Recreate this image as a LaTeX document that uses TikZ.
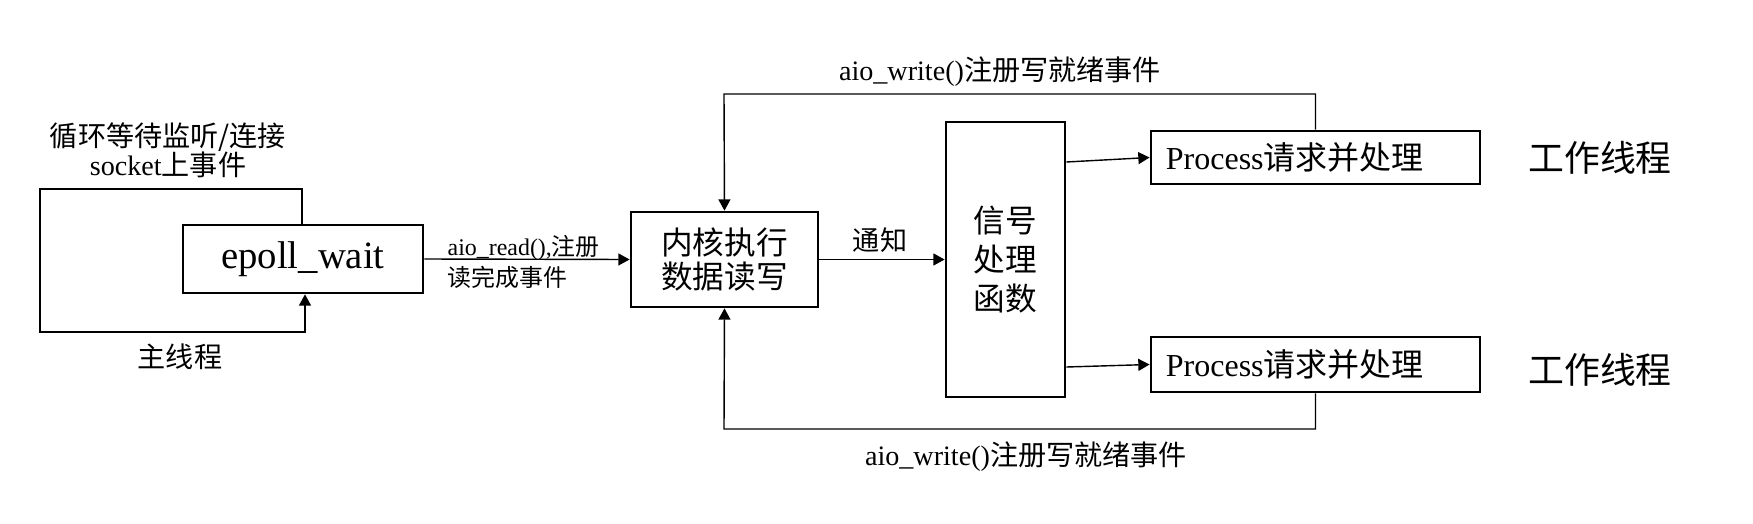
\documentclass[tikz,border=0pt]{standalone}
\usepackage{fontspec}
\setmainfont{Liberation Serif}
\newfontfamily\cjk{Noto Sans CJK SC}
\newcommand{\zh}[1]{{\cjk #1}}
\usetikzlibrary{arrows.meta}
\tikzset{
  box/.style={draw, line width=0.75pt, inner sep=0pt, align=center},
  conn/.style={line width=0.4pt},
  arr/.style={conn, -{Triangle[length=3.2pt,width=3.4pt]}},
  lbl/.style={inner sep=0pt, align=center, font=\fontsize{8}{8.3}\selectfont}
}
\begin{document}
\begin{tikzpicture}[x=0.01cm, y=-0.01cm]
\useasboundingbox (0,0) rectangle (1753,524);
% boxes
\node[box, minimum width=2.40cm, minimum height=0.68cm, font=\fontsize{11}{13}\selectfont] (epoll) at (303,259) {epoll\_wait};
\node[box, minimum width=1.87cm, minimum height=0.95cm, font=\fontsize{9}{9.4}\selectfont] (kernel) at (724.5,259.5) {\zh{内核执行}\\\zh{数据读写}};
\node[box, minimum width=1.19cm, minimum height=2.75cm, font=\fontsize{9}{11.1}\selectfont] (signal) at (1005.5,259.5) {\zh{信号}\\\zh{处理}\\\zh{函数}};
\node[box, minimum height=0.53cm, text width=2.99cm, inner xsep=0.15cm, align=left, font=\fontsize{9.1}{10}\selectfont] (p1) at (1315.5,157.5) {Process\zh{请求并处理}};
\node[box, minimum height=0.55cm, text width=2.99cm, inner xsep=0.15cm, align=left, font=\fontsize{9.1}{10}\selectfont] (p2) at (1315.5,364.5) {Process\zh{请求并处理}};
% labels
\node[lbl] (looplbl) at (168,150) {\zh{循环等待监听/连接}\\socket\zh{上事件}};
\node[lbl] (mainlbl) at (180,357) {\zh{主线程}};
\node[lbl, anchor=west, align=left, font=\fontsize{6.8}{8.8}\selectfont] (readlbl) at (447,262) {aio\_read(),\zh{注册}\\\zh{读完成事件}};
\node[lbl, font=\fontsize{7.7}{8}\selectfont] (notify) at (880,240) {\zh{通知}};
\node[lbl] (toplbl) at (1000,72) {aio\_write()\zh{注册写就绪事件}};
\node[lbl] (botlbl) at (1026,457) {aio\_write()\zh{注册写就绪事件}};
\node[lbl, font=\fontsize{10.2}{11}\selectfont] (w1) at (1600,158) {\zh{工作线程}};
\node[lbl, font=\fontsize{10.2}{11}\selectfont] (w2) at (1600,370) {\zh{工作线程}};
% helper coordinates
\coordinate (lt) at (302,189);
\coordinate (lb) at (305,332);
\coordinate (lL) at (40,0);
\coordinate (tl) at (724,94);
\coordinate (bl) at (724,429);
\coordinate (s1) at (0,162);
\coordinate (s2) at (0,367);
% connectors
\draw[arr] (epoll.north -| lt) -- (lt) -- (lt -| lL) -- (lb -| lL) -- (lb) -- (epoll.south -| lb);
\draw[arr] (epoll.east) -- (kernel.west);
\draw[arr] (kernel.east) -- (signal.west);
\draw[arr] (signal.east |- s1) -- (p1.west);
\draw[arr] (signal.east |- s2) -- (p2.west);
\draw[arr] (p1.north) |- (tl) -- (kernel.north);
\draw[arr] (p2.south) |- (bl) -- (kernel.south);
\end{tikzpicture}
\end{document}
